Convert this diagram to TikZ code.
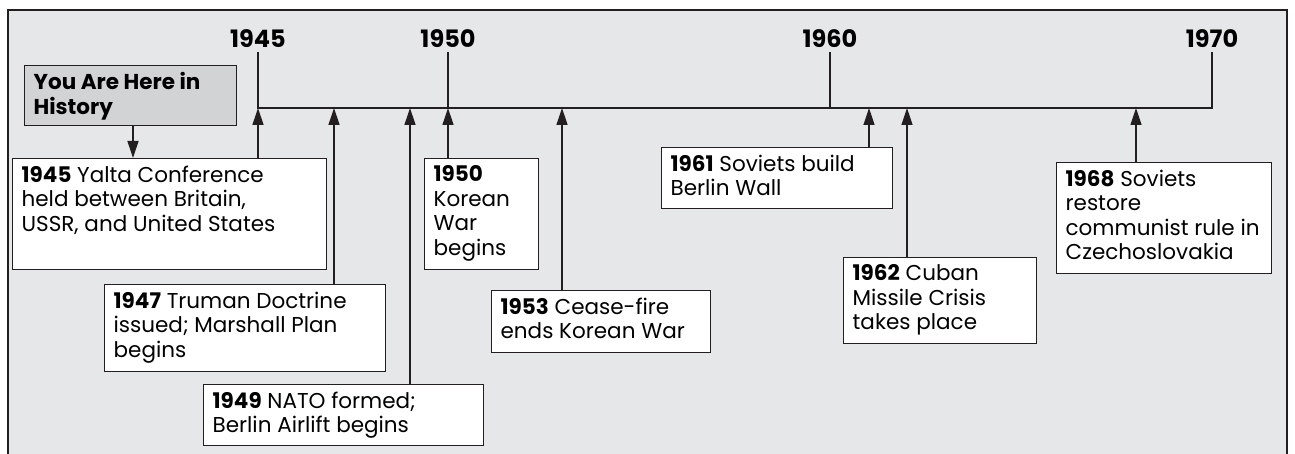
\documentclass[tikz,border=0pt]{standalone}
\usepackage{fontspec}
\setmainfont{Poppins}
\usetikzlibrary{arrows.meta}
\definecolor{bg}{HTML}{E6E7E8}
\definecolor{yahfill}{HTML}{D1D3D4}
\definecolor{ink}{HTML}{231F20}
\newcommand\evbox[3]{\parbox[b][#2][t]{#1}{\vspace*{7pt}\leftskip=9pt\rightskip=0pt plus 1fil\parindent=0pt\fontsize{21.5}{24.5}\selectfont #3\par}}
\tikzset{
  evbox/.style={draw=ink, line width=1.3pt, fill=white, inner sep=0pt, anchor=north west},
  yahbox/.style={evbox, fill=yahfill},
  evarrow/.style={draw=ink, line width=1.3pt, -{Triangle[width=11pt,length=17pt]}},
  axis/.style={draw=ink, line width=1.3pt},
  yearlbl/.style={anchor=base, inner sep=0pt, font=\fontsize{24}{26}\selectfont\bfseries}
}
\begin{document}
\begin{tikzpicture}[x=1pt,y=-1pt]
\useasboundingbox (0,0) rectangle (1295,454);
\fill[bg] (8,10) rectangle (1287,470);
\draw[ink, line width=2pt] (8,470) -- (8,10) -- (1287,10) -- (1287,470);
% timeline coordinates
\coordinate (k45) at (258,52);
\coordinate (k50) at (448,52);
\coordinate (k60) at (830,52);
\coordinate (k70) at (1212,52);
\coordinate (t45) at (258,108);
\coordinate (t47) at (334,108);
\coordinate (t49) at (410,108);
\coordinate (t50) at (448,108);
\coordinate (t53) at (562,108);
\coordinate (t60) at (830,108);
\coordinate (t61) at (869,108);
\coordinate (t62) at (907,108);
\coordinate (t68) at (1136,108);
\coordinate (t70) at (1212,108);
\coordinate (yahx) at (133,108);
\draw[axis] (k45) -- (t45) -- (t70) -- (k70);
\draw[axis] (k50) -- (t50);
\draw[axis] (k60) -- (t60);
\node[yearlbl] (y45) at (258,48) {1945};
\node[yearlbl] (y50) at (448,48) {1950};
\node[yearlbl] (y60) at (830,48) {1960};
\node[yearlbl] (y70) at (1212,48) {1970};
% boxes
\node[yahbox] (yah) at (24,65) {\evbox{212pt}{60pt}{\bfseries You Are Here in\\History}};
\node[evbox] (b45) at (12,158) {\evbox{314pt}{111pt}{\textbf{1945} Yalta Conference\\held between Britain,\\USSR, and United States}};
\node[evbox] (b47) at (104,284) {\evbox{281pt}{87pt}{\textbf{1947} Truman Doctrine\\issued; Marshall Plan\\begins}};
\node[evbox] (b49) at (203,384) {\evbox{280pt}{61pt}{\textbf{1949} NATO formed;\\Berlin Airlift begins}};
\node[evbox] (b50) at (424,158) {\evbox{114pt}{111pt}{\textbf{1950}\\Korean\\War\\begins}};
\node[evbox] (b53) at (491,290) {\evbox{219pt}{62pt}{\textbf{1953} Cease-fire\\ends Korean War}};
\node[evbox] (b61) at (661,147) {\evbox{231pt}{61pt}{\textbf{1961} Soviets build\\Berlin Wall}};
\node[evbox] (b62) at (843,257) {\evbox{193pt}{86pt}{\textbf{1962} Cuban\\Missile Crisis\\takes place}};
\node[evbox] (b68) at (1056,162) {\evbox{215pt}{111pt}{\textbf{1968} Soviets\\restore\\communist rule in\\Czechoslovakia}};
% connectors
\draw[evarrow] (yah.south -| yahx) -- (b45.north -| yahx);
\draw[evarrow] (b45.north -| t45) -- (t45);
\draw[evarrow] (b47.north -| t47) -- (t47);
\draw[evarrow] (b49.north -| t49) -- (t49);
\draw[evarrow] (b50.north -| t50) -- (t50);
\draw[evarrow] (b53.north -| t53) -- (t53);
\draw[evarrow] (b61.north -| t61) -- (t61);
\draw[evarrow] (b62.north -| t62) -- (t62);
\draw[evarrow] (b68.north -| t68) -- (t68);
\end{tikzpicture}
\end{document}
